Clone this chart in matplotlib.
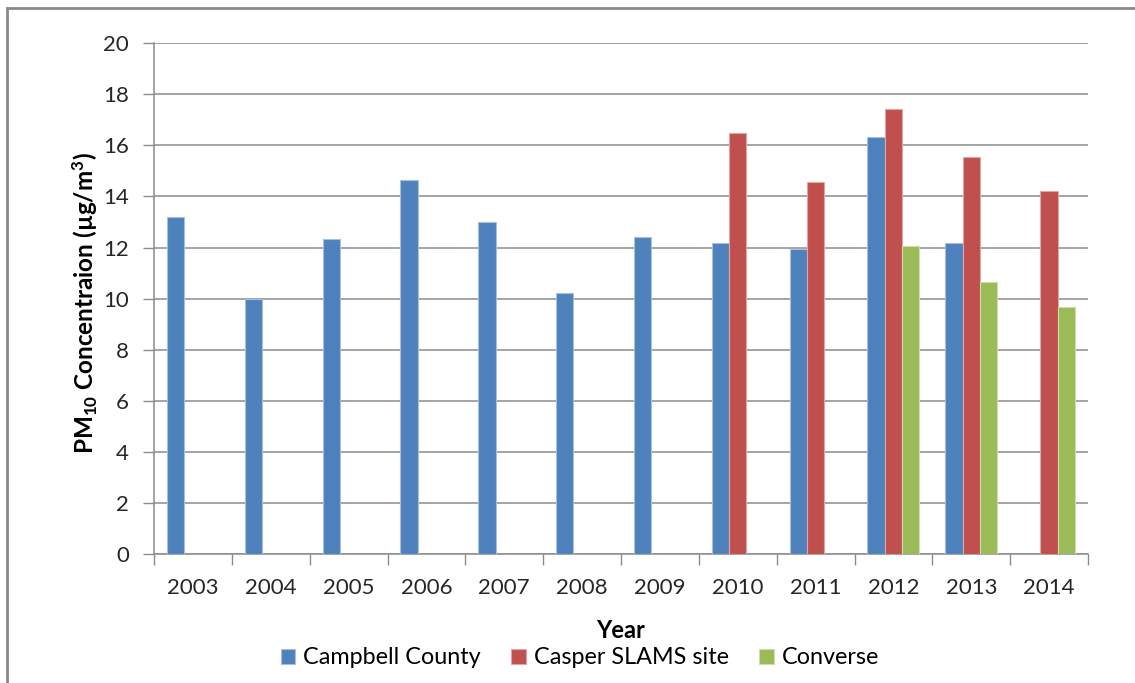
import matplotlib
matplotlib.use("Agg")
import matplotlib.pyplot as plt
import numpy as np
from matplotlib.lines import Line2D

plt.rcParams['font.family'] = ['Lato', 'DejaVu Sans']
plt.rcParams['mathtext.fontset'] = 'custom'
plt.rcParams['mathtext.rm'] = 'Lato'
plt.rcParams['mathtext.bf'] = 'Lato:bold'
plt.rcParams['mathtext.default'] = 'regular'

years = ['2003', '2004', '2005', '2006', '2007', '2008', '2009',
         '2010', '2011', '2012', '2013', '2014']
campbell = [13.21, 10.0, 12.33, 14.66, 13.0, 10.22, 12.41,
            12.18, 11.94, 16.34, 12.18, np.nan]
casper = [np.nan] * 7 + [16.47, 14.56, 17.40, 15.53, 14.23]
converse = [np.nan] * 9 + [12.07, 10.64, 9.69]

series_names = ['Campbell County', 'Casper SLAMS site', 'Converse']
series_colors = ['#4F81BD', '#C0504D', '#9BBB59']
edge_colors = ['#A7C0DE', '#DFA8A6', '#CDDDAC']
series = [campbell, casper, converse]

fig = plt.figure(figsize=(11.35, 6.83), dpi=100)
ax = fig.add_axes([0.1357, 0.1884, 0.9586 - 0.1357, 0.937 - 0.1884])

x = np.arange(len(years))
bw = 1 / 4.5
for i, (vals, name, col, ec) in enumerate(zip(series, series_names, series_colors, edge_colors)):
    ax.bar(x + (i - 1) * bw, vals, width=bw, color=col, edgecolor=ec,
           linewidth=0.8, label=name, zorder=3)

ax.set_xlim(-0.5, len(years) - 0.5)
ax.set_ylim(0, 20)
ax.set_yticks(np.arange(0, 21, 2))
ax.yaxis.grid(True, color='#8C8C8C', linewidth=1.1, zorder=0)
ax.set_axisbelow(True)

ax.set_xticks(x)
ax.set_xticklabels(years)
ax.set_xticks(np.arange(-0.5, len(years)), minor=True)
ax.tick_params(axis='x', which='major', length=0, pad=17, labelsize=16, colors='#262626')
ax.tick_params(axis='x', which='minor', length=8, width=1, color='#8C8C8C', direction='out')
ax.tick_params(axis='y', length=8, width=1, color='#8C8C8C', direction='out',
               pad=10, labelsize=16, labelcolor='#262626')

for s in ['top', 'right']:
    ax.spines[s].set_visible(False)
for s in ['left', 'bottom']:
    ax.spines[s].set_color('#8C8C8C')
    ax.spines[s].set_linewidth(1.1)

fig.text(85 / 1135, 1 - 303 / 683, 'PM$_{10}$ Concentraion (µg/m$^{3}$)',
         rotation=90, ha='center', va='center', fontsize=17.5, fontweight='bold',
         color='black')
fig.text(621 / 1135, 1 - 631 / 683, 'Year', ha='center', va='center',
         fontsize=17, fontweight='bold', color='black')

fig.legend(loc='center', bbox_to_anchor=(580 / 1135, 1 - 658 / 683), ncol=3,
           frameon=False, fontsize=16.8, handlelength=0.62, handleheight=0.62,
           handletextpad=0.35, columnspacing=1.3, borderpad=0)

# chart frame
fig.add_artist(Line2D([7 / 1135, 7 / 1135], [0, 1 - 8 / 683], color='#8A8A8A', linewidth=2,
                      transform=fig.transFigure))
fig.add_artist(Line2D([7 / 1135, 1], [1 - 8 / 683, 1 - 8 / 683], color='#8A8A8A', linewidth=2,
                      transform=fig.transFigure))

fig.savefig('out.png', dpi=100)
